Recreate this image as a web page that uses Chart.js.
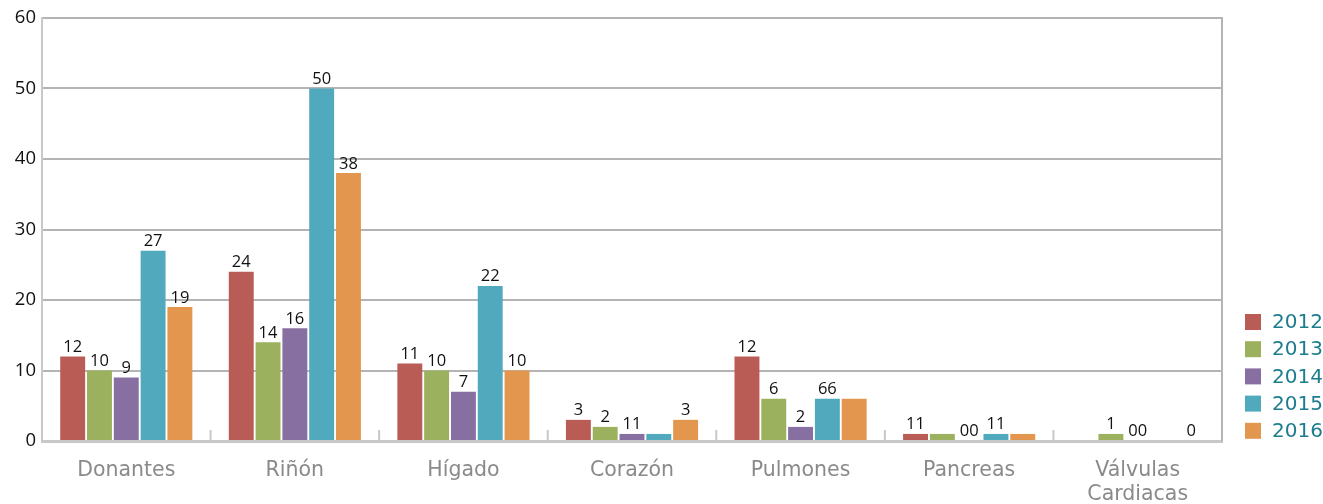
<!DOCTYPE html>
<html><head><meta charset="utf-8">
<script src="https://cdn.jsdelivr.net/npm/chart.js@4"></script>
<style>html,body{margin:0;padding:0;background:#fff}#wrap{width:1323px;height:504px;position:relative}</style>
</head><body><div id="wrap"><canvas id="c" width="1323" height="504"></canvas></div>
<script>
const categories = ['Donantes','Riñón','Hígado','Corazón','Pulmones','Pancreas',['Válvulas','Cardiacas']];
const years = ['2012','2013','2014','2015','2016'];
const v2012 = [12,24,11,3,12,1,null];
const v2013 = [10,14,10,2,6,1,1];
const v2014 = [9,16,7,1,2,0,0];
const v2015 = [27,50,22,1,6,1,0];
const v2016 = [19,38,10,3,6,1,0];
const t2012 = ['12','24','11','3','12','11',''];
const t2013 = ['10','14','10','2','6','','1'];
const t2014 = ['9','16','7','11','2','00','00'];
const t2015 = ['27','50','22','','66','11',''];
const t2016 = ['19','38','10','3','','','0'];
const yTicks = [0,10,20,30,40,50,60];

const colors = ['#B95C55','#9BB15E','#8770A1','#51A9BD','#E3964D'];
const seriesVals = [v2012,v2013,v2014,v2015,v2016];
const seriesText = [t2012,t2013,t2014,t2015,t2016];

const datasets = years.map((y,i)=>({label:y,data:seriesVals[i],backgroundColor:colors[i],
  categoryPercentage:0.795,barPercentage:0.93,texts:seriesText[i]}));

const deco = {
  id:'deco',
  afterDraw(chart){
    const ctx = chart.ctx, a = chart.chartArea, x = chart.scales.x;
    ctx.save();
    ctx.strokeStyle = '#b4b4b4'; ctx.lineWidth = 2;
    ctx.beginPath(); ctx.moveTo(a.right, a.top-1); ctx.lineTo(a.right, a.bottom); ctx.stroke();
    ctx.strokeStyle = '#c8c8c8'; ctx.lineWidth = 2;
    for (let i=1;i<categories.length;i++){
      const px = (x.getPixelForTick(i-1)+x.getPixelForTick(i))/2;
      ctx.beginPath(); ctx.moveTo(px, a.bottom-11); ctx.lineTo(px, a.bottom); ctx.stroke();
    }
    ctx.fillStyle = '#111'; ctx.font = '16.5px "Open Sans"'; ctx.textAlign='center'; ctx.textBaseline='bottom';
    chart.data.datasets.forEach((ds,di)=>{
      const meta = chart.getDatasetMeta(di);
      meta.data.forEach((bar,j)=>{
        const t = ds.texts[j];
        if (!t) return;
        const yv = (ds.data[j]==null?0:ds.data[j]);
        const py = chart.scales.y.getPixelForValue(yv);
        ctx.fillText(t, bar.x, py-1);
      });
    });
    ctx.textAlign='left'; ctx.textBaseline='middle'; ctx.font = '20px "DejaVu Sans"';
    chart.data.datasets.forEach((ds,di)=>{
      const cy = 322 + di*27.2;
      ctx.fillStyle = ds.backgroundColor;
      ctx.fillRect(1245, cy-8, 16, 16);
      ctx.fillStyle = '#1c7d8f';
      ctx.fillText(ds.label, 1272, cy+1);
    });
    ctx.restore();
  }
};

new Chart(document.getElementById('c'),{
  type:'bar',
  data:{labels:categories,datasets},
  options:{
    responsive:false,animation:false,
    layout:{padding:{top:18,right:101,left:0,bottom:0}},
    plugins:{legend:{display:false},tooltip:{enabled:false}},
    scales:{
      x:{
        grid:{display:false,drawTicks:false},
        border:{display:true,color:'#c8c8c8',width:3},
        ticks:{color:'#8a8a8a',font:{family:'DejaVu Sans',size:20.5},padding:17,maxRotation:0,autoSkip:false},
        afterFit(s){s.height=63;}
      },
      y:{
        min:0,max:60,
        afterBuildTicks(s){s.ticks = yTicks.map(v=>({value:v}));},
        grid:{color:'#b4b4b4',lineWidth:2,drawTicks:false},
        border:{display:true,color:'#c8c8c8',width:2},
        ticks:{color:'#111',font:{family:'Open Sans',size:18.5},padding:6},
        afterFit(s){s.width=42;}
      }
    }
  },
  plugins:[deco]
});
</script></body></html>
